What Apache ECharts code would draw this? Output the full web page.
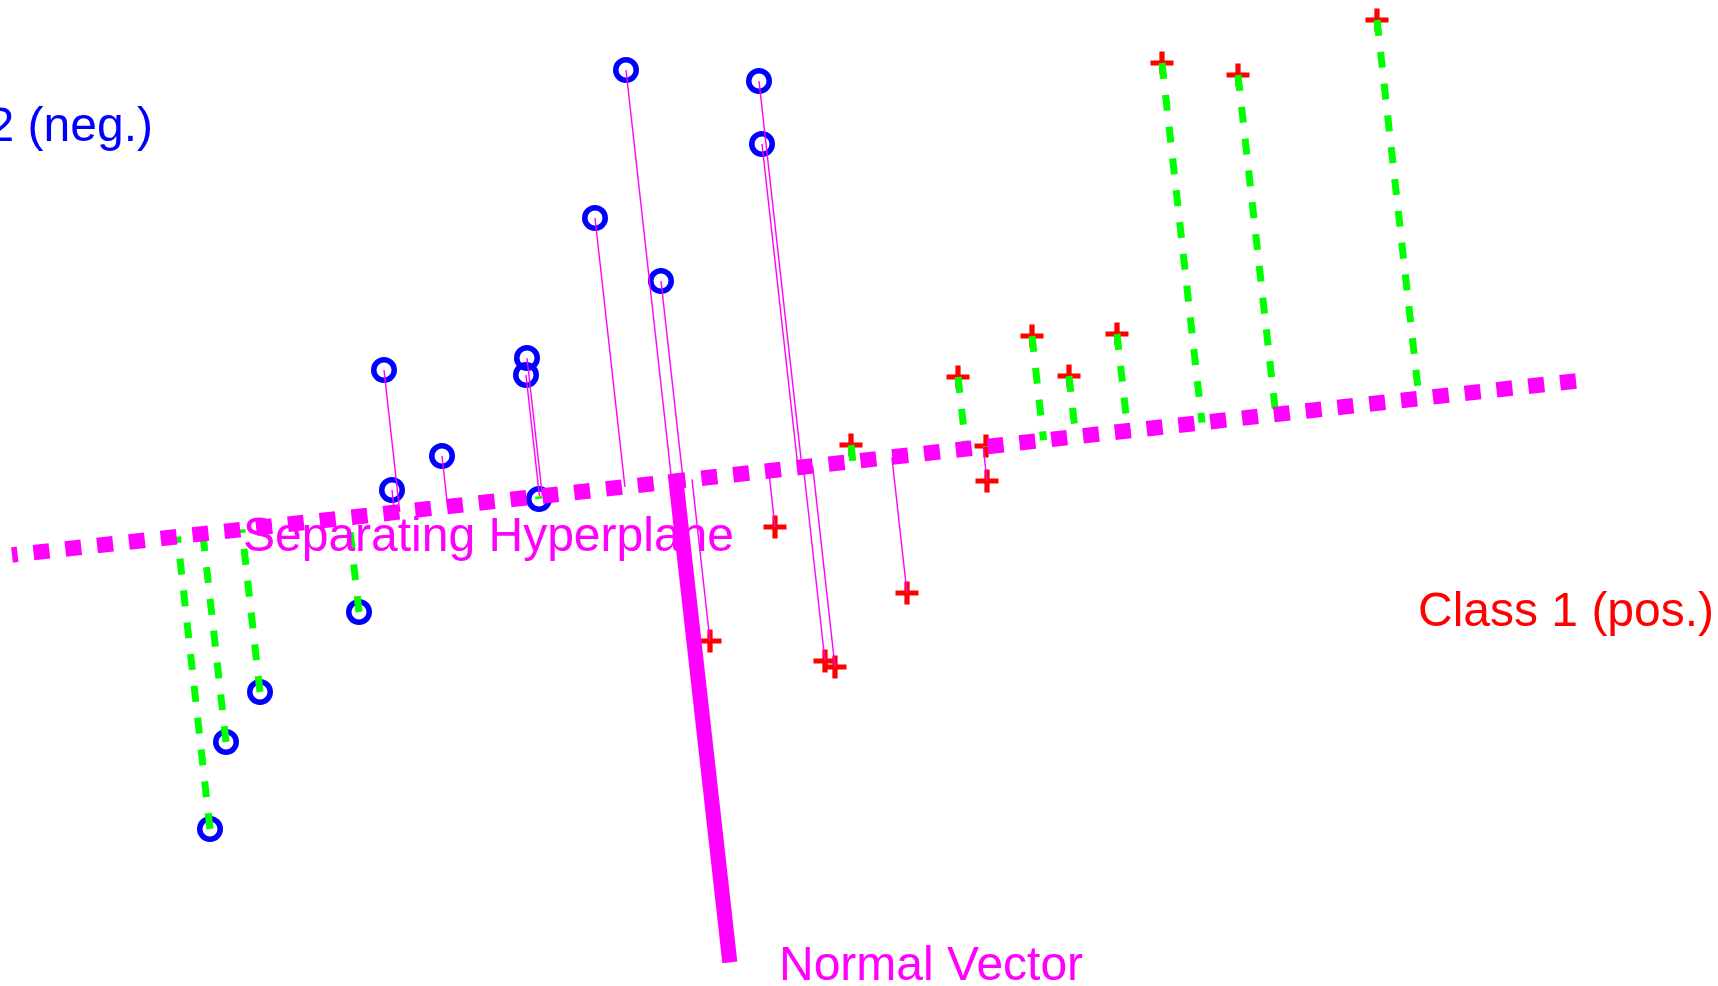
<!DOCTYPE html>
<html>
<head>
<meta charset="utf-8">
<script src="https://cdn.jsdelivr.net/npm/echarts@6/dist/echarts.min.js"></script>
<style>
  html, body { margin: 0; padding: 0; background: #ffffff; }
  #chart { width: 1718px; height: 986px; }
</style>
</head>
<body>
<div id="chart"></div>
<script>
// ---- Data (plot units; both axes share the same scale) ----
var negPoints = [ // Class 2 (neg.) — blue circles
  [6.26, 9.16], [7.59, 9.05], [7.62, 8.42], [5.95, 7.68], [6.61, 7.05],
  [3.84, 6.16], [5.27, 6.28], [5.26, 6.11], [4.42, 5.30], [3.92, 4.96],
  [5.39, 4.87], [3.59, 3.74], [2.60, 2.94], [2.26, 2.44], [2.10, 1.57]
];
var posPoints = [ // Class 1 (pos.) — red pluses
  [13.77, 9.66], [11.62, 9.23], [12.38, 9.11], [10.32, 6.50], [11.17, 6.52],
  [9.58, 6.09], [10.69, 6.10], [8.51, 5.41], [9.86, 5.40], [9.87, 5.05],
  [7.75, 4.59], [9.07, 3.93], [7.10, 3.45], [8.25, 3.25], [8.35, 3.19]
];
var hyperplane = [[15.76, 6.05], [0.12, 4.31]];
var normalVector = [[6.76, 5.05], [7.29, 0.31]];
var labelTexts = ['Class 2 (neg.)', 'Class 1 (pos.)', 'Separating Hyperplane', 'Normal Vector'];
var labelAnchors = [[1.53, 8.58], [14.18, 3.73], [2.43, 4.48], [7.79, 0.19]];
var labelColors = ['#0000ff', '#ff0000', '#ff00ff', '#ff00ff'];
var labelAligns = ['right', 'left', 'left', 'left'];

// ---- Projections onto the hyperplane ----
var A = hyperplane[1], B = hyperplane[0];
var ux = B[0] - A[0], uy = B[1] - A[1];
var ul = Math.sqrt(ux * ux + uy * uy); ux /= ul; uy /= ul;
function foot(p) {
  var t = (p[0] - A[0]) * ux + (p[1] - A[1]) * uy;
  return [A[0] + t * ux, A[1] + t * uy];
}
function above(p) { // positive cross product => above the line
  return (ux * (p[1] - A[1]) - uy * (p[0] - A[0])) > 0;
}
var greenLines = [], thinLines = [];
negPoints.forEach(function (p) {
  var seg = { coords: [p, foot(p)] };
  if (above(p)) thinLines.push(seg); else greenLines.push(seg);
});
posPoints.forEach(function (p) {
  var seg = { coords: [p, foot(p)] };
  if (above(p)) greenLines.push(seg); else thinLines.push(seg);
});

var plusPath = 'path://M8.5,0h5v8.5h8.5v5h-8.5v8.5h-5v-8.5h-8.5v-5h8.5z';
var FONT = '"Liberation Sans", Arial, Helvetica, sans-serif';

var chart = echarts.init(document.getElementById('chart'), null, { renderer: 'canvas' });
chart.setOption({
  animation: false,
  backgroundColor: '#ffffff',
  grid: { left: 0, right: 0, top: 0, bottom: 0, containLabel: false },
  xAxis: { type: 'value', min: 0, max: 17.18, show: false },
  yAxis: { type: 'value', min: 0, max: 9.86, show: false },
  series: [
    {
      name: 'Class 2 (neg.)', type: 'scatter', z: 1, clip: false,
      symbol: 'circle', symbolSize: 20.5,
      itemStyle: { color: 'rgba(0,0,0,0)', borderColor: '#0000ff', borderWidth: 5.5, opacity: 1 },
      data: negPoints
    },
    {
      name: 'Class 1 (pos.)', type: 'scatter', z: 1, clip: false,
      symbol: plusPath, symbolSize: 23,
      itemStyle: { color: '#ff0000', opacity: 1 },
      data: posPoints
    },
    {
      name: 'Projection (thin)', type: 'lines', coordinateSystem: 'cartesian2d', z: 2,
      lineStyle: { color: '#ff00ff', width: 1.4, opacity: 1, curveness: 0 },
      data: thinLines
    },
    {
      name: 'Projection (dashed)', type: 'lines', coordinateSystem: 'cartesian2d', z: 2,
      lineStyle: { color: '#00ff00', width: 7, opacity: 1, type: [16, 16], cap: 'butt' },
      data: greenLines
    },
    {
      name: 'Separating Hyperplane', type: 'lines', coordinateSystem: 'cartesian2d', z: 3,
      lineStyle: { color: '#ff00ff', width: 15.5, opacity: 1, type: [16, 16], cap: 'butt' },
      data: [{ coords: hyperplane }]
    },
    {
      name: 'Labels', type: 'scatter', z: 4, clip: false, silent: true,
      symbolSize: 0.01, itemStyle: { color: 'rgba(0,0,0,0)', opacity: 1 },
      data: labelTexts.map(function (t, i) {
        return {
          value: labelAnchors[i],
          label: {
            show: true, formatter: t, position: [0, 0],
            align: labelAligns[i], verticalAlign: 'middle', opacity: 1,
            color: labelColors[i], fontSize: 48, fontFamily: FONT
          }
        };
      })
    },
    {
      name: 'Normal Vector', type: 'lines', coordinateSystem: 'cartesian2d', z: 5,
      lineStyle: { color: '#ff00ff', width: 15, opacity: 1, cap: 'square' },
      data: [{ coords: normalVector }]
    }
  ]
});
</script>
</body>
</html>
